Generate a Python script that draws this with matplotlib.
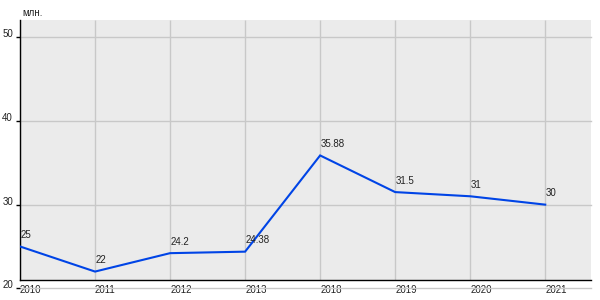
import matplotlib
matplotlib.use("Agg")
import matplotlib.pyplot as plt
from matplotlib.patches import Rectangle

years = ["2010", "2011", "2012", "2013", "2018", "2019", "2020", "2021"]
values = [25, 22, 24.2, 24.38, 35.88, 31.5, 31, 30]
labels = ["25", "22", "24.2", "24.38", "35.88", "31.5", "31", "30"]
yticks = [20, 30, 40, 50]
unit = "млн."

BG = "#ebebeb"; GRID = "#c8c8c8"; LINE = "#0044e6"
plt.rcParams["font.family"] = ["Liberation Sans", "DejaVu Sans"]

fig = plt.figure(figsize=(6, 3), dpi=100)
ax = fig.add_axes([20/600, 1-288.3/300, 571/600, 268.3/300])
x0, x1, y0, y1, yb = 0, 7.61, 20, 52.07, 21.0
ax.set_xlim(x0, x1); ax.set_ylim(y0, y1)
ax.patch.set_visible(False)
ax.add_patch(Rectangle((x0, yb), x1-x0, y1-yb, fc=BG, ec="none", zorder=0))

ax.set_yticks(yticks)
ax.grid(axis="y", color=GRID, lw=1, zorder=1)
for gl in ax.get_ygridlines():
    gl.set_clip_on(False)
xs = list(range(len(years)))
ax.vlines(xs, yb, y1, color=GRID, lw=1, zorder=1)

ax.plot(xs, values, color=LINE, lw=1.5, zorder=3, solid_joinstyle="miter")
for x, v, t in zip(xs, values, labels):
    ax.annotate(t, (x, v), xytext=(0.5, 4.5), textcoords="offset points",
                ha="left", va="bottom", fontsize=7, color="#222222", zorder=4)

for s in ("top", "right"):
    ax.spines[s].set_visible(False)
ax.spines["bottom"].set_position(("data", yb))
ax.spines["left"].set_bounds(yb, y1)
for s in ("left", "bottom"):
    ax.spines[s].set_color("black"); ax.spines[s].set_linewidth(1)

ax.set_xticks(xs)
ax.set_xticklabels(years, ha="left")
ax.tick_params(axis="x", length=0, pad=3.5, labelsize=7, labelcolor="#222222")
ax.tick_params(axis="y", length=3, width=1, pad=2, labelsize=7, labelcolor="#222222")
for lb in ax.get_yticklabels():
    lb.set_va("baseline")

fig.text(22/600, 1-12.5/300, unit, fontsize=7, color="#222222", va="center", ha="left")

fig.savefig("out.png", dpi=100, facecolor="white")
